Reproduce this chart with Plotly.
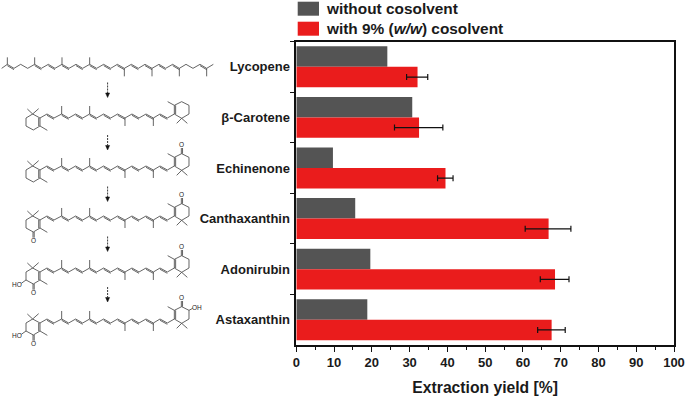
import plotly.graph_objects as go

W, H = 685, 396
categories = ["Lycopene", "β-Carotene", "Echinenone", "Canthaxanthin", "Adonirubin", "Astaxanthin"]
without_cosolvent = [24.1, 30.7, 9.7, 15.6, 19.6, 18.8]
with_cosolvent = [32.1, 32.5, 39.5, 66.8, 68.5, 67.6]
err_plus = [2.7, 6.3, 2.0, 5.9, 3.7, 3.6]
err_minus = [2.9, 6.5, 2.1, 6.2, 3.9, 3.7]
x_ticks = list(range(0, 101, 10))

GRAY, RED = "#545454", "#ea1c1c"
FONT = "Liberation Sans"
INK = "#3c3c3c"

def px(x): return x / W
def py(y): return 1 - y / H

shapes, notes = [], []

def add_path(points, width=0.8, color=INK, fill=None, dash=None):
    d = "M " + " L ".join(f"{px(x):.5f},{py(y):.5f}" for x, y in points)
    if fill:
        d += " Z"
    line = dict(color=color, width=width)
    if dash:
        line["dash"] = dash
    s = dict(type="path", xref="paper", yref="paper", path=d, line=line)
    if fill:
        s["fillcolor"] = fill
    shapes.append(s)

def bond(a, b, double=False, ox=0.0, oy=1.3):
    add_path([a, b])
    if double:
        add_path([(a[0] + ox, a[1] + oy), (b[0] + ox, b[1] + oy)])

def z(x, y, dy=0):
    # drawing unit: a third of a pixel, origin at the first crop row
    return (x / 3, 40 + y / 3 + dy)

def atom(x, y, text, size=6.5):
    notes.append(dict(text=text, x=px(x), y=py(y), xref="paper", yref="paper", showarrow=False,
                      font=dict(family=FONT, size=size, color="#222"), xanchor="center", yanchor="middle"))

# lycopene chain
lx = [5, 22, 42, 62, 83, 104, 124, 145, 165, 186, 207, 228, 248, 269, 290, 311, 332, 352, 373,
      394, 415, 435, 456, 477, 497, 518, 538, 558, 579, 600, 620, 640]
ly = [85, 73] * 16
ldbl = {22, 104, 145, 186, 228, 269, 311, 352, 394, 435, 477, 518, 600}
for i in range(len(lx) - 1):
    bond(z(lx[i], ly[i]), z(lx[i + 1], ly[i + 1]), lx[i] in ldbl)
for mx in (22, 104, 186, 269):
    bond(z(mx, 73), z(mx, 52))
for mx in (373, 456, 538, 620):
    bond(z(mx, 85), z(mx, 109))

def carotenoid(dy, left_k=False, left_oh=False, right_k=False, right_oh=False):
    cx = [120, 141, 162, 185, 206, 227, 248, 269, 290, 311, 332, 353, 375, 396, 417, 438, 460, 480, 502, 523]
    cy = [234, 222] * 10
    dbl = {141, 185, 227, 269, 311, 353, 396, 438, 480}
    for i in range(len(cx) - 1):
        bond(z(cx[i], cy[i], dy), z(cx[i + 1], cy[i + 1], dy), cx[i] in dbl)
    for mx in (185, 269):
        bond(z(mx, 222, dy), z(mx, 198, dy))
    for mx in (375, 460):
        bond(z(mx, 234, dy), z(mx, 258, dy))
    # left ring
    ring = [(98, 222), (120, 234), (120, 258), (100, 270), (78, 258), (78, 234), (98, 222)]
    for a, b in zip(ring, ring[1:]):
        bond(z(*a, dy), z(*b, dy), a == (120, 234), ox=-1.3, oy=0)
    bond(z(120, 258, dy), z(142, 271, dy))
    bond(z(98, 222, dy), z(82, 207, dy))
    bond(z(98, 222, dy), z(116, 206, dy))
    if left_k:
        bond(z(99, 270, dy), z(99, 287, dy), True, ox=1.2, oy=0)
        atom(*z(100, 296, dy), "O")
    if left_oh:
        bond(z(78, 258, dy), z(64, 268, dy))
        atom(*z(52, 271, dy), "HO")
    # right ring
    ring = [(523, 222), (523, 196), (545, 185), (567, 196), (567, 222), (545, 235), (523, 222)]
    for a, b in zip(ring, ring[1:]):
        bond(z(*a, dy), z(*b, dy), a == (523, 222), ox=1.3, oy=0)
    bond(z(523, 196, dy), z(503, 185, dy))
    bond(z(545, 235, dy), z(530, 250, dy))
    bond(z(545, 235, dy), z(562, 250, dy))
    if right_k:
        bond(z(544, 185, dy), z(544, 168, dy), True, ox=1.2, oy=0)
        atom(*z(544, 158, dy), "O")
    if right_oh:
        bond(z(567, 196, dy), z(578, 190, dy))
        atom(*z(591, 187, dy), "OH")

carotenoid(0)
carotenoid(52, right_k=True)
carotenoid(102, left_k=True, right_k=True)
carotenoid(154, left_k=True, left_oh=True, right_k=True)
carotenoid(205, left_k=True, left_oh=True, right_k=True, right_oh=True)

# reaction arrows
for top in (82.5, 135, 186.5, 236.5, 287):
    add_path([(107.6, top), (107.6, top + 10.5)], width=0.9, color="#222", dash="2px,1px")
    add_path([(105.6, top + 10.5), (109.6, top + 10.5), (107.6, top + 15)], width=0.5, color="#111", fill="#111")

# legend
for y0, color, label in ((1.7, GRAY, "without cosolvent"), (21.7, RED, "with 9% (<i>w/w</i>) cosolvent")):
    shapes.append(dict(type="rect", xref="paper", yref="paper", x0=px(297.7), x1=px(319), y0=py(y0 + 14), y1=py(y0),
                       fillcolor=color, line=dict(width=0)))
    notes.append(dict(text=f"<b>{label}</b>", x=px(323.5), y=py(y0 + 7), xref="paper", yref="paper", showarrow=False,
                      xanchor="left", yanchor="middle", font=dict(family=FONT, size=15.4, color="#1a1a1a")))

fig = go.Figure()
fig.add_bar(y=categories, x=without_cosolvent, orientation="h", marker=dict(color=GRAY, line=dict(width=0)),
            name="without cosolvent", showlegend=False)
fig.add_bar(y=categories, x=with_cosolvent, orientation="h", marker=dict(color=RED, line=dict(width=0)),
            name="with 9% (w/w) cosolvent", showlegend=False,
            error_x=dict(type="data", array=err_plus, arrayminus=err_minus, color="#111", thickness=1.2, width=3))

fig.update_layout(
    width=W, height=H, autosize=False, margin=dict(l=0, r=0, t=0, b=0, autoexpand=False),
    paper_bgcolor="white", plot_bgcolor="white", barmode="group", bargap=0.19, bargroupgap=0,
    font=dict(family=FONT, color="#1a1a1a"), shapes=shapes, annotations=notes,
    xaxis=dict(domain=[px(296.3), px(674)], range=[0, 100], tickvals=x_ticks, ticks="outside", ticklen=5,
               tickwidth=1.2, tickcolor="#111", showline=True, linecolor="#111", linewidth=1.5, mirror=True,
               showgrid=False, zeroline=False, automargin=False,
               tickfont=dict(size=13, family=FONT, weight="bold"),
               minor=dict(dtick=5, ticks="outside", ticklen=3, tickwidth=1, tickcolor="#111"),
               title=dict(text="<b>Extraction yield [%]</b>", font=dict(size=15.7), standoff=13)),
    yaxis=dict(domain=[py(345), py(41.5)], autorange="reversed", tickson="boundaries", ticks="outside", ticklen=5,
               tickwidth=1.2, tickcolor="#111", showline=True, linecolor="#111", linewidth=1.5, mirror=True,
               ticklabelstandoff=2, showgrid=False, zeroline=False, automargin=False,
               tickfont=dict(size=13, family=FONT, weight="bold")),
)
fig.write_html("out.html", config=dict(displayModeBar=False),
               post_script="document.body.style.margin='0';document.body.style.overflow='hidden';")
